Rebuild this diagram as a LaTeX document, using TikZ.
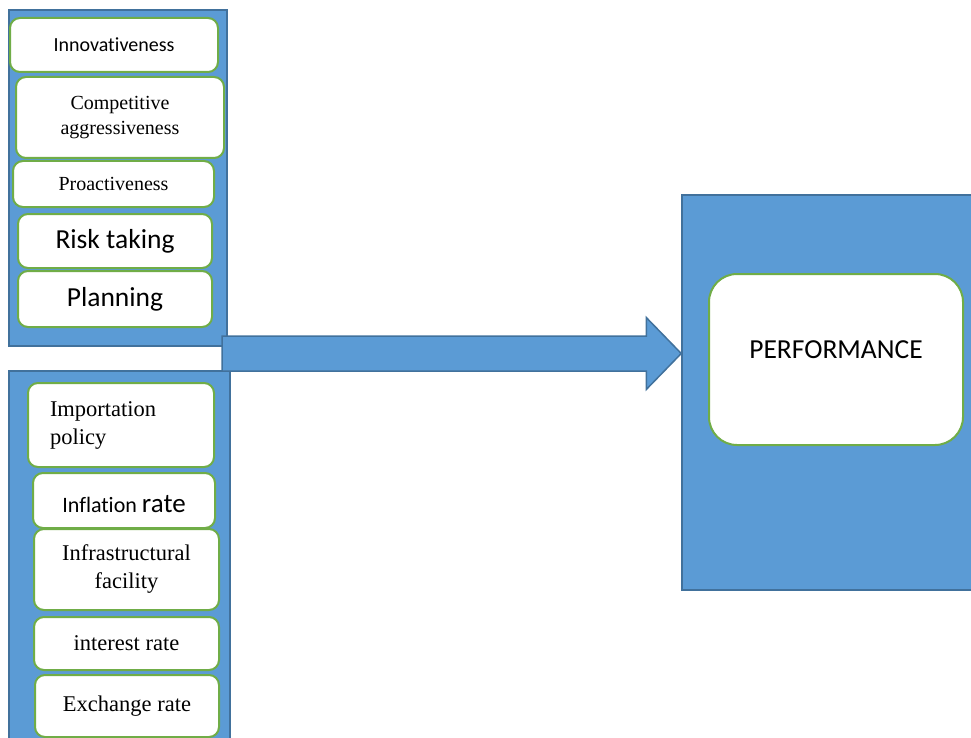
\documentclass[tikz,border=0pt]{standalone}
\usepackage{fontspec}
\setmainfont{Liberation Serif}
\newfontfamily\calibri[Ligatures={NoCommon,NoContextual}]{Carlito}
\usetikzlibrary{calc}
\definecolor{panelblue}{HTML}{5B9BD5}
\definecolor{panelline}{HTML}{41719C}
\definecolor{boxline}{HTML}{70AD47}

\begin{document}
\begin{tikzpicture}[x=1pt,y=-1pt,
  panel/.style={draw=panelline,line width=1.5pt,fill=panelblue,inner sep=0pt},
  item/.style={draw=boxline,line width=2pt,fill=white,rounded corners=10pt,inner sep=0pt,align=center},
  cal small/.style={font=\calibri\fontsize{20}{24}\selectfont},
  cal big/.style={font=\calibri\fontsize{27.5}{30}\selectfont},
  serif small/.style={font=\fontsize{20}{25}\selectfont},
  serif big/.style={font=\fontsize{22.5}{28}\selectfont},
  bigarrow/.style={draw=panelline,line width=1.5pt,fill=panelblue,line join=miter}]
  \useasboundingbox (0,0) rectangle (971,738);

  % panels
  \node[panel,minimum width=218,minimum height=336] (orient) at (118,178) {};
  \node[panel,minimum width=221,minimum height=399] (environ) at (119.5,570.5) {};
  \node[panel,minimum width=303,minimum height=395] (outcome) at (833.5,392.5) {};

  % entrepreneurial orientation
  \node[item,cal small,minimum width=208,minimum height=54] (innov) at (114,45) {Innovativeness};
  \node[item,serif small,minimum width=208,minimum height=81] (compet) at (120,117.5) {Competitive\\aggressiveness};
  \node[item,serif small,minimum width=201,minimum height=46] (proact) at (113.5,184) {Proactiveness};
  \node[item,cal big,minimum width=194,minimum height=54,text depth=4pt] (risk) at (115,241) {Risk taking};
  \node[item,cal big,minimum width=194,minimum height=56,text depth=4pt] (plan) at (115,299) {Planning};

  % business environment
  \node[item,serif big,minimum width=186,minimum height=84,text width=142,align=left] (import) at (121,425) {Importation\\policy};
  \node[item,minimum width=182,minimum height=55] (inflat) at (124,500.5) {};
  \node[font=\calibri] (inflattext) at (inflat.center) [yshift=-4pt] {{\fontsize{22}{26}\selectfont Inflation\ }{\fontsize{27}{30}\selectfont rate}};
  \node[item,serif big,minimum width=185,minimum height=81] (infra) at (126.5,569.5) {Infrastructural\\facility};
  \node[item,serif big,minimum width=185,minimum height=53] (interest) at (126.5,643.5) {interest rate};
  \node[item,serif big,minimum width=184,minimum height=62] (exch) at (127,706) {Exchange rate};

  % performance
  \node[item,cal big,rounded corners=28pt,minimum width=254,minimum height=171,text depth=20pt] (perf) at (836,359.5) {PERFORMANCE};

  % block arrow
  \coordinate (tail) at (222,353.5);
  \coordinate (tip) at (outcome.west |- tail);
  \draw[bigarrow] ($(tail)+(0,-17.5)$) -- ($(tip)+(-35,-17.5)$) -- ($(tip)+(-35,-36)$) -- (tip)
    -- ($(tip)+(-35,36)$) -- ($(tip)+(-35,17.5)$) -- ($(tail)+(0,17.5)$) -- cycle;
\end{tikzpicture}
\end{document}
